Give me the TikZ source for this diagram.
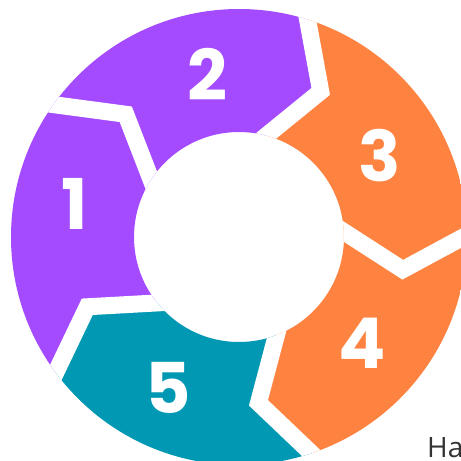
\documentclass[tikz,border=0pt]{standalone}
\usepackage{fontspec}
\usetikzlibrary{calc}
\definecolor{cpurple}{HTML}{A44AFF}
\definecolor{corange}{HTML}{FF8340}
\definecolor{cteal}{HTML}{0098B2}
\definecolor{cdark}{HTML}{333333}
\newfontfamily\numfont{Poppins}
\newfontfamily\labfont{Open Sans}
\begin{document}
\begin{tikzpicture}[x=1pt,y=1pt,
  gapline/.style={white,line width=17pt,line join=miter,line cap=butt},
  num/.style={text=white,font=\numfont\bfseries\fontsize{70}{70}\selectfont,inner sep=0pt}]
\useasboundingbox (-239,-224) rectangle (222,237);
\foreach \i/\g in {1/216.5,2/144.5,3/72.5,4/0.5,5/-71.5}{
  \coordinate (V\i) at ({\g-11.8}:167);
  \coordinate (O\i) at (\g:228);
  \coordinate (I\i) at ({\g+2}:106);
  \coordinate (Oe\i) at ($(V\i)!1.6!(O\i)$);
  \coordinate (Ie\i) at ($(V\i)!1.6!(I\i)$);
  \coordinate (F\i) at (\g:330);
  \coordinate (M\i) at ({\g-36}:330);
}
\begin{scope}[even odd rule]
  \clip (0,0) circle (228) (0,0) circle (105);
  \fill[cpurple] (Oe1) -- (V1) -- (Ie1) -- (Ie2) -- (V2) -- (Oe2) -- (F2) -- (M1) -- (F1) -- cycle;
  \fill[cpurple] (Oe2) -- (V2) -- (Ie2) -- (Ie3) -- (V3) -- (Oe3) -- (F3) -- (M2) -- (F2) -- cycle;
  \fill[corange] (Oe3) -- (V3) -- (Ie3) -- (Ie4) -- (V4) -- (Oe4) -- (F4) -- (M3) -- (F3) -- cycle;
  \fill[corange] (Oe4) -- (V4) -- (Ie4) -- (Ie5) -- (V5) -- (Oe5) -- (F5) -- (M4) -- (F4) -- cycle;
  \fill[cteal] (Oe5) -- (V5) -- (Ie5) -- (Ie1) -- (V1) -- (Oe1) -- (F1) -- (M5) -- (F5) -- cycle;
  \foreach \i in {1,...,5}{
    \draw[gapline] (Oe\i) -- (V\i) -- (Ie\i);
  }
\end{scope}
\node[num] (n1) at (-164,33) {1};
\node[num] (n2) at (-32,163) {2};
\node[num] (n3) at (141,81) {3};
\node[num] (n4) at (123,-106) {4};
\node[num] (n5) at (-71,-151) {5};
\node[anchor=base west,inner sep=0pt,text=cdark,font=\labfont\fontsize{28}{28}\selectfont] (ha) at (188,-220) {Ha};
\end{tikzpicture}
\end{document}
